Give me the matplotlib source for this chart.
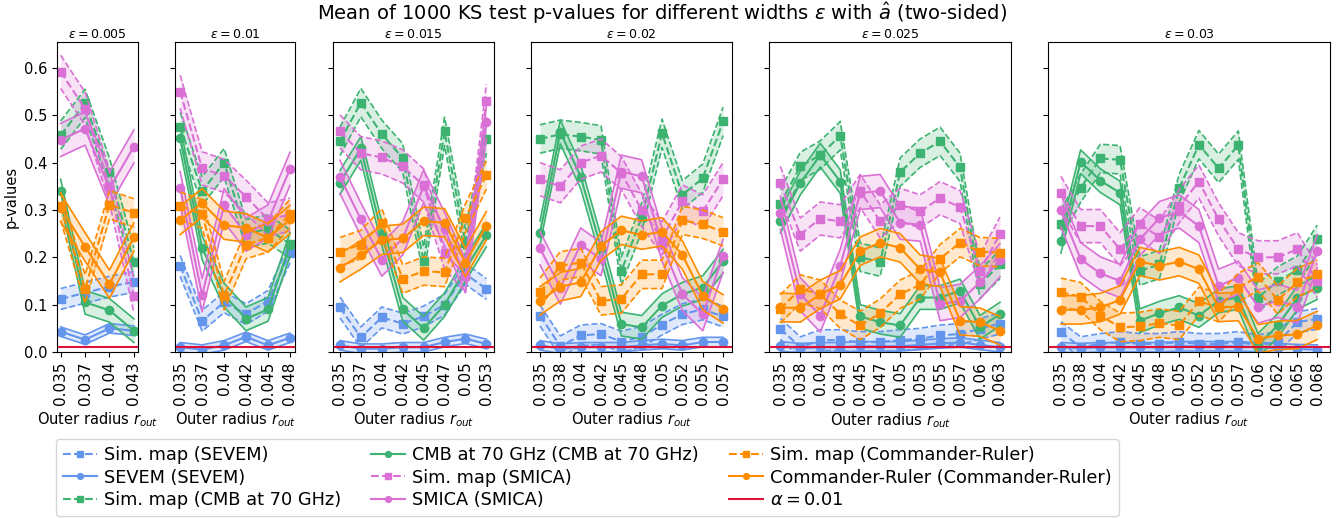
import numpy as np
import matplotlib
matplotlib.use("Agg")
import matplotlib.pyplot as plt

# widths epsilon, one panel each
eps_values = ["0.005", "0.01", "0.015", "0.02", "0.025", "0.03"]

r_out_labels = [
    ["0.035", "0.037", "0.04", "0.043"],
    ["0.035", "0.037", "0.04", "0.042", "0.045", "0.048"],
    ["0.035", "0.037", "0.04", "0.042", "0.045", "0.047", "0.05", "0.053"],
    ["0.035", "0.038", "0.04", "0.042", "0.045", "0.048", "0.05", "0.052", "0.055", "0.057"],
    ["0.035", "0.038", "0.04", "0.043", "0.045", "0.047", "0.05", "0.053", "0.055", "0.057",
     "0.06", "0.063"],
    ["0.035", "0.038", "0.04", "0.042", "0.045", "0.048", "0.05", "0.052", "0.055", "0.057",
     "0.06", "0.062", "0.065", "0.068"],
]

sim_sevem = [
    [0.112, 0.125, 0.138, 0.148],
    [0.182, 0.066, 0.105, 0.08, 0.108, 0.21],
    [0.094, 0.031, 0.073, 0.06, 0.075, 0.1, 0.165, 0.133],
    [0.077, 0.012, 0.035, 0.038, 0.022, 0.032, 0.058, 0.08, 0.09, 0.075],
    [0.049, 0.01, 0.025, 0.025, 0.021, 0.021, 0.025, 0.028, 0.035, 0.038, 0.049, 0.06],
    [0.042, 0.01, 0.017, 0.021, 0.017, 0.017, 0.021, 0.017, 0.017, 0.021, 0.014, 0.021, 0.063, 0.07],
]
sevem = [
    [0.043, 0.026, 0.05, 0.045],
    [0.01, 0.005, 0.014, 0.032, 0.014, 0.03],
    [0.014, 0.007, 0.007, 0.01, 0.01, 0.021, 0.028, 0.017],
    [0.014, 0.007, 0.01, 0.01, 0.01, 0.014, 0.017, 0.014, 0.021, 0.021],
    [0.012, 0.008, 0.01, 0.01, 0.012, 0.012, 0.012, 0.015, 0.018, 0.02, 0.015, 0.01],
    [0.01, 0.008, 0.01, 0.01, 0.01, 0.01, 0.012, 0.012, 0.012, 0.012, 0.01, 0.008, 0.006, 0.005],
]
sim_cmb70 = [
    [0.458, 0.525, 0.38, 0.19],
    [0.476, 0.34, 0.4, 0.25, 0.26, 0.228],
    [0.445, 0.527, 0.46, 0.41, 0.192, 0.466, 0.23, 0.45],
    [0.45, 0.46, 0.455, 0.448, 0.171, 0.285, 0.462, 0.332, 0.367, 0.487],
    [0.313, 0.392, 0.416, 0.457, 0.2, 0.19, 0.38, 0.42, 0.445, 0.39, 0.143, 0.185],
    [0.27, 0.346, 0.409, 0.406, 0.171, 0.185, 0.346, 0.438, 0.388, 0.437, 0.115, 0.15, 0.173, 0.238],
]
cmb70 = [
    [0.34, 0.105, 0.088, 0.045],
    [0.452, 0.22, 0.12, 0.07, 0.09, 0.227],
    [0.358, 0.43, 0.25, 0.09, 0.05, 0.1, 0.175, 0.247],
    [0.252, 0.465, 0.37, 0.22, 0.059, 0.052, 0.098, 0.122, 0.136, 0.192],
    [0.276, 0.357, 0.416, 0.36, 0.075, 0.063, 0.056, 0.115, 0.115, 0.129, 0.052, 0.08],
    [0.234, 0.402, 0.362, 0.336, 0.066, 0.082, 0.094, 0.077, 0.108, 0.115, 0.014, 0.056, 0.115, 0.136],
]
sim_smica = [
    [0.592, 0.514, 0.35, 0.118],
    [0.55, 0.388, 0.372, 0.328, 0.28, 0.29],
    [0.466, 0.42, 0.411, 0.392, 0.352, 0.21, 0.161, 0.531],
    [0.365, 0.35, 0.4, 0.415, 0.378, 0.3, 0.24, 0.318, 0.297, 0.365],
    [0.357, 0.248, 0.282, 0.276, 0.34, 0.276, 0.311, 0.297, 0.325, 0.306, 0.171, 0.25],
    [0.336, 0.266, 0.266, 0.217, 0.27, 0.243, 0.308, 0.36, 0.28, 0.217, 0.2, 0.2, 0.217, 0.149],
]
smica = [
    [0.448, 0.472, 0.345, 0.434],
    [0.346, 0.12, 0.31, 0.248, 0.276, 0.387],
    [0.37, 0.28, 0.195, 0.24, 0.35, 0.26, 0.16, 0.485],
    [0.219, 0.136, 0.227, 0.196, 0.381, 0.371, 0.227, 0.122, 0.08, 0.203],
    [0.294, 0.122, 0.077, 0.182, 0.336, 0.34, 0.273, 0.269, 0.101, 0.108, 0.147, 0.194],
    [0.299, 0.196, 0.166, 0.15, 0.238, 0.283, 0.297, 0.266, 0.14, 0.157, 0.096, 0.108, 0.096, 0.213],
]
sim_cr = [
    [0.308, 0.133, 0.311, 0.294],
    [0.308, 0.292, 0.119, 0.227, 0.241, 0.292],
    [0.212, 0.227, 0.273, 0.154, 0.171, 0.168, 0.283, 0.374],
    [0.126, 0.182, 0.189, 0.108, 0.112, 0.164, 0.164, 0.278, 0.27, 0.254],
    [0.091, 0.133, 0.122, 0.08, 0.056, 0.082, 0.122, 0.142, 0.197, 0.231, 0.212, 0.21],
    [0.126, 0.117, 0.077, 0.052, 0.054, 0.061, 0.056, 0.107, 0.094, 0.136, 0.159, 0.11, 0.147, 0.164],
]
cr = [
    [0.305, 0.222, 0.143, 0.243],
    [0.278, 0.315, 0.268, 0.262, 0.241, 0.28],
    [0.178, 0.205, 0.236, 0.24, 0.276, 0.273, 0.189, 0.267],
    [0.108, 0.138, 0.147, 0.224, 0.257, 0.247, 0.254, 0.205, 0.119, 0.091],
    [0.094, 0.093, 0.122, 0.142, 0.213, 0.231, 0.22, 0.175, 0.168, 0.066, 0.063, 0.045],
    [0.089, 0.089, 0.094, 0.11, 0.191, 0.182, 0.191, 0.175, 0.094, 0.096, 0.028, 0.035, 0.037, 0.056],
]

# approximate half-width of the shaded band around each mean
band_sim_sevem = 0.022
band_sevem = 0.01
band_sim_cmb70 = 0.03
band_cmb70 = 0.025
band_sim_smica = 0.035
band_smica = 0.035
band_sim_cr = 0.03
band_cr = 0.03

alpha_level = 0.01

series = [
    ("Sim. map (SEVEM)", sim_sevem, band_sim_sevem, "cornflowerblue", "--", "s"),
    ("SEVEM (SEVEM)", sevem, band_sevem, "cornflowerblue", "-", "o"),
    ("Sim. map (CMB at 70 GHz)", sim_cmb70, band_sim_cmb70, "mediumseagreen", "--", "s"),
    ("CMB at 70 GHz (CMB at 70 GHz)", cmb70, band_cmb70, "mediumseagreen", "-", "o"),
    ("Sim. map (SMICA)", sim_smica, band_sim_smica, "orchid", "--", "s"),
    ("SMICA (SMICA)", smica, band_smica, "orchid", "-", "o"),
    ("Sim. map (Commander-Ruler)", sim_cr, band_sim_cr, "darkorange", "--", "s"),
    ("Commander-Ruler (Commander-Ruler)", cr, band_cr, "darkorange", "-", "o"),
]

fig, axes = plt.subplots(1, len(eps_values), figsize=(13.41, 5.18), dpi=100, sharey=True,
                         gridspec_kw={"width_ratios": [len(l) for l in r_out_labels]})
fig.subplots_adjust(left=0.0425, right=0.9918, top=0.919, bottom=0.3205, wspace=0.205)

for i, ax in enumerate(axes):
    x = np.arange(len(r_out_labels[i]))
    for label, data, hw, color, ls, marker in series:
        y = np.array(data[i])
        ax.fill_between(x, y - hw, y + hw, color=color, alpha=0.2, linewidth=0)
        ax.plot(x, y - hw, color=color, linestyle=ls, linewidth=1.2)
        ax.plot(x, y + hw, color=color, linestyle=ls, linewidth=1.2)
        ax.plot(x, y, color=color, linestyle=ls, marker=marker, markersize=6,
                linewidth=1.5, label=label)
    ax.axhline(alpha_level, color="crimson", linewidth=1.5, label=r"$\alpha = 0.01$")
    ax.set_xticks(x)
    ax.set_xticklabels(r_out_labels[i], rotation=90, fontsize=11)
    ax.tick_params(axis="y", labelsize=10.5)
    ax.set_ylim(0, 0.655)
    ax.set_title(r"$\epsilon = " + eps_values[i] + "$", fontsize=9, pad=3)
    ax.set_xlabel(r"Outer radius $r_{out}$", fontsize=10.5)

axes[0].set_ylabel("p-values", fontsize=10.5)
fig.suptitle(r"Mean of 1000 KS test p-values for different widths $\epsilon$ with $\hat{a}$ (two-sided)",
             fontsize=14, x=0.494, y=1.0, va="top")

handles, labels = axes[0].get_legend_handles_labels()
fig.legend(handles, labels, loc="lower center", bbox_to_anchor=(0.438, 0.0), ncol=3,
           fontsize=12.8, markerscale=0.7, columnspacing=1.7, handlelength=1.9,
           handletextpad=0.4, labelspacing=0.25, borderaxespad=0.1)

fig.savefig("out.png")
